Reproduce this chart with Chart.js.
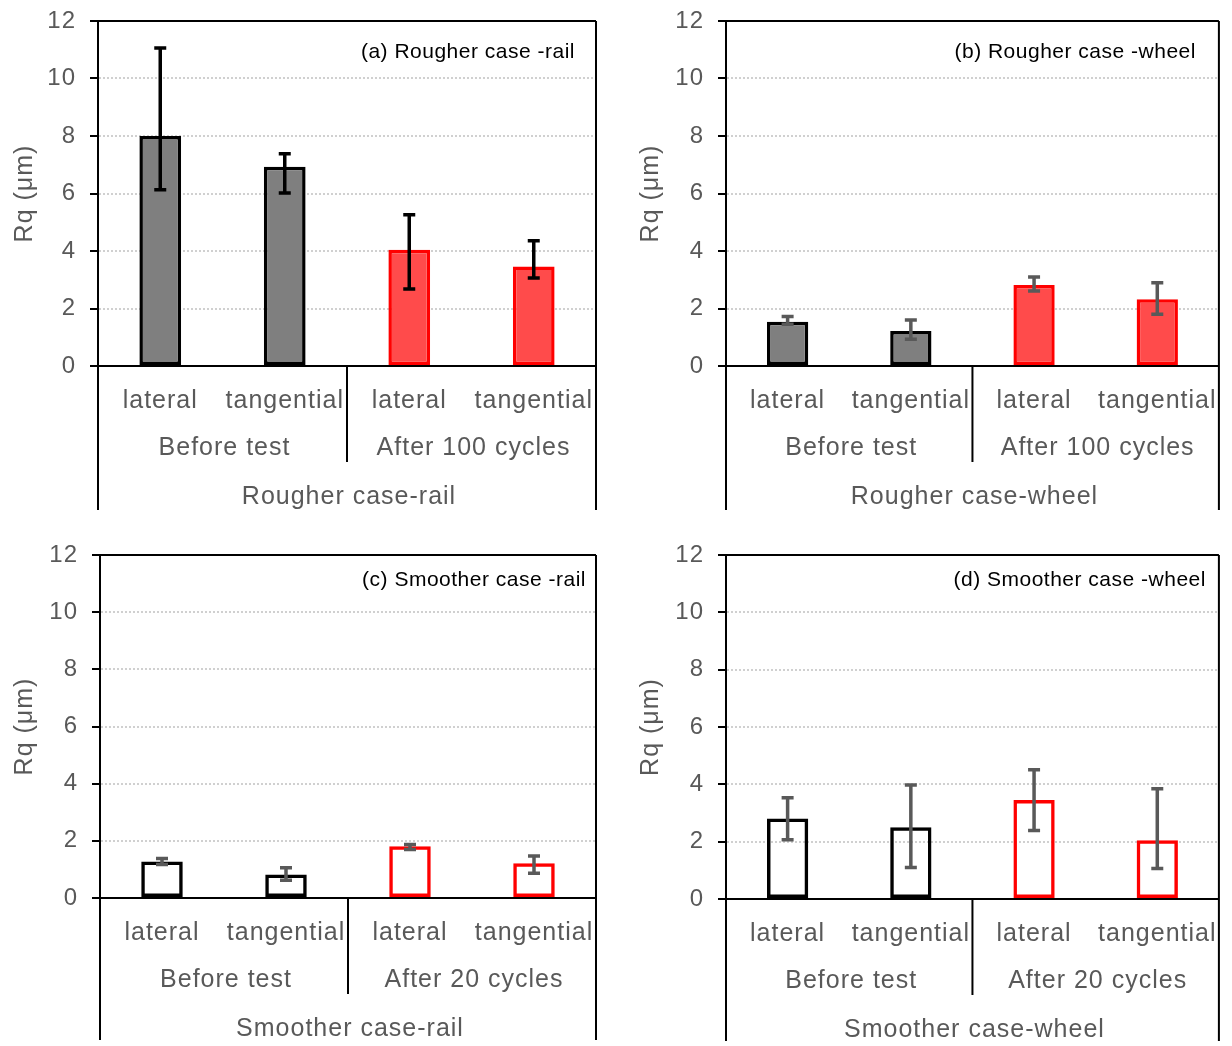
<!DOCTYPE html>
<html>
<head>
<meta charset="utf-8">
<script src="https://cdn.jsdelivr.net/npm/chart.js@4.4.1/dist/chart.umd.min.js"></script>
<style>
  html, body { margin: 0; padding: 0; background: #fff; }
  #wrap { position: relative; width: 1232px; height: 1046px; }
  canvas { position: absolute; }
</style>
</head>
<body>
<div id="wrap">
  <canvas id="chartA" width="616" height="523" style="left:0;top:0"></canvas>
  <canvas id="chartB" width="616" height="523" style="left:616px;top:0"></canvas>
  <canvas id="chartC" width="616" height="516" style="left:0;top:530px"></canvas>
  <canvas id="chartD" width="616" height="516" style="left:616px;top:530px"></canvas>
</div>
<script>
var categories = ["lateral", "tangential", "lateral", "tangential"];
var groupsRough = ["Before test", "After 100 cycles"];
var groupsSmooth = ["Before test", "After 20 cycles"];
var yMin = 0, yMax = 12, yStep = 2;

// (a) rougher case - rail
var railRoughMean = [8.0, 6.93, 4.04, 3.46];
var railRoughLow = [6.13, 6.02, 2.68, 3.06];
var railRoughHigh = [11.06, 7.38, 5.26, 4.36];

// (b) rougher case - wheel
var wheelRoughMean = [1.54, 1.22, 2.82, 2.32];
var wheelRoughLow = [1.45, 0.93, 2.61, 1.8];
var wheelRoughHigh = [1.72, 1.6, 3.1, 2.9];

// (c) smoother case - rail
var railSmoothMean = [1.28, 0.82, 1.81, 1.22];
var railSmoothLow = [1.17, 0.62, 1.7, 0.87];
var railSmoothHigh = [1.38, 1.06, 1.87, 1.47];

// (d) smoother case - wheel
var wheelSmoothMean = [2.81, 2.5, 3.45, 2.05];
var wheelSmoothLow = [2.07, 1.1, 2.39, 1.06];
var wheelSmoothHigh = [3.53, 3.98, 4.51, 3.85];

var FONT = "'Liberation Sans', Arial, sans-serif";
var GRAY = "#595959";

// error bars, frame lines, group rows and the panel caption
var panelDecor = {
  id: "panelDecor",
  beforeDraw: function (chart) {
    chart.ctx.letterSpacing = "1px";
  },
  afterDatasetsDraw: function (chart) {
    var ctx = chart.ctx, y = chart.scales.y;
    var ds = chart.data.datasets[0];
    var meta = chart.getDatasetMeta(0);
    ctx.save();
    ctx.strokeStyle = ds.errColor;
    ctx.lineWidth = 3.5;
    meta.data.forEach(function (bar, i) {
      var yt = y.getPixelForValue(ds.errHigh[i]);
      var yb = y.getPixelForValue(ds.errLow[i]);
      ctx.beginPath();
      ctx.moveTo(bar.x, yt); ctx.lineTo(bar.x, yb);
      ctx.moveTo(bar.x - 6, yt); ctx.lineTo(bar.x + 6, yt);
      ctx.moveTo(bar.x - 6, yb); ctx.lineTo(bar.x + 6, yb);
      ctx.stroke();
    });
    ctx.restore();
  },
  afterDraw: function (chart) {
    var ctx = chart.ctx, a = chart.chartArea, x = chart.scales.x;
    var ds = chart.data.datasets[0];
    var bottom = a.bottom + ds.frameDepth;
    ctx.save();
    ctx.strokeStyle = "#000";
    ctx.lineWidth = 2;
    ctx.beginPath();
    // top and right border, axis lines carried down through the label rows
    ctx.moveTo(a.left - 8, a.top); ctx.lineTo(a.right, a.top);
    ctx.moveTo(a.right, a.top); ctx.lineTo(a.right, bottom);
    ctx.moveTo(a.left, a.bottom); ctx.lineTo(a.left, bottom);
    var sep = (x.getPixelForValue(1) + x.getPixelForValue(2)) / 2;
    ctx.moveTo(sep, a.bottom); ctx.lineTo(sep, a.bottom + 96);
    ctx.stroke();

    ctx.letterSpacing = "1px";
    ctx.fillStyle = GRAY;
    ctx.font = "25px " + FONT;
    ctx.textAlign = "center";
    ctx.textBaseline = "middle";
    ds.groups.forEach(function (g, i) {
      var cx = (x.getPixelForValue(2 * i) + x.getPixelForValue(2 * i + 1)) / 2;
      ctx.fillText(g, cx + 2, a.bottom + 82);
    });
    ctx.fillText(ds.caseLabel, (a.left + a.right) / 2 + 2, a.bottom + 131);

    ctx.letterSpacing = "0.5px";
    ctx.fillStyle = "#000";
    ctx.font = "21px " + FONT;
    ctx.textAlign = "right";
    ctx.fillText(ds.panelLabel, a.right - ds.labelRight, a.top + ds.labelTop);
    ctx.restore();
  }
};

function makeChart(id, cfg) {
  var colors = cfg.filled
    ? ["#7f7f7f", "#7f7f7f", "#ff4b4b", "#ff4b4b"]
    : ["rgba(0,0,0,0)", "rgba(0,0,0,0)", "rgba(0,0,0,0)", "rgba(0,0,0,0)"];
  return new Chart(document.getElementById(id), {
    type: "bar",
    data: {
      labels: categories,
      datasets: [{
        data: cfg.mean,
        errLow: cfg.low,
        errHigh: cfg.high,
        errColor: cfg.errColor,
        groups: cfg.groups,
        caseLabel: cfg.caseLabel,
        panelLabel: cfg.panelLabel,
        labelRight: cfg.labelRight,
        labelTop: cfg.labelTop,
        frameDepth: cfg.frameDepth,
        backgroundColor: colors,
        borderColor: ["#000", "#000", "#ff0000", "#ff0000"],
        borderWidth: 3.5,
        borderSkipped: false,
        barPercentage: 0.335,
        categoryPercentage: 1.0
      }]
    },
    options: {
      responsive: false,
      animation: false,
      devicePixelRatio: 1,
      layout: { padding: { left: 0, top: cfg.padTop, right: cfg.padRight, bottom: 0 } },
      plugins: { legend: { display: false }, tooltip: { enabled: false } },
      scales: {
        x: {
          grid: { display: false, drawTicks: false },
          border: { color: "#000", width: 2 },
          ticks: { color: GRAY, padding: 20, font: { family: FONT, size: 25 } },
          afterFit: function (s) { s.height = cfg.xHeight; }
        },
        y: {
          min: yMin,
          max: yMax,
          ticks: { stepSize: yStep, color: GRAY, padding: 14, font: { family: FONT, size: 24, lineHeight: 0.4 } },
          grid: {
            color: function (c) {
              return (c.tick && (c.tick.value === yMin || c.tick.value === yMax)) ? "rgba(0,0,0,0)" : "#d0d0d0";
            },
            lineWidth: 2,
            tickColor: "#000",
            tickLength: 8,
            tickWidth: 2,
            tickBorderDash: []
          },
          border: { color: "#000", width: 2, dash: [2, 2] },
          title: {
            display: true,
            text: "Rq (μm)",
            color: GRAY,
            font: { family: FONT, size: 25 },
            padding: { top: cfg.titlePad, bottom: 0 }
          },
          afterFit: function (s) { s.width = cfg.yWidth; }
        }
      }
    },
    plugins: [panelDecor]
  });
}

makeChart("chartA", {
  mean: railRoughMean, low: railRoughLow, high: railRoughHigh, filled: true, errColor: "#000",
  groups: groupsRough, caseLabel: "Rougher case-rail", panelLabel: "(a) Rougher case -rail",
  labelRight: 21, labelTop: 31, frameDepth: 144,
  padTop: 21, padRight: 20, xHeight: 157, yWidth: 98, titlePad: 10
});
makeChart("chartB", {
  mean: wheelRoughMean, low: wheelRoughLow, high: wheelRoughHigh, filled: true, errColor: GRAY,
  groups: groupsRough, caseLabel: "Rougher case-wheel", panelLabel: "(b) Rougher case -wheel",
  labelRight: 23, labelTop: 31, frameDepth: 144,
  padTop: 21, padRight: 4, xHeight: 157, yWidth: 110, titlePad: 20
});
makeChart("chartC", {
  mean: railSmoothMean, low: railSmoothLow, high: railSmoothHigh, filled: false, errColor: GRAY,
  groups: groupsSmooth, caseLabel: "Smoother case-rail", panelLabel: "(c) Smoother case -rail",
  labelRight: 10, labelTop: 25, frameDepth: 142,
  padTop: 25, padRight: 20, xHeight: 148, yWidth: 100, titlePad: 10
});
makeChart("chartD", {
  mean: wheelSmoothMean, low: wheelSmoothLow, high: wheelSmoothHigh, filled: false, errColor: GRAY,
  groups: groupsSmooth, caseLabel: "Smoother case-wheel", panelLabel: "(d) Smoother case -wheel",
  labelRight: 13, labelTop: 25, frameDepth: 142,
  padTop: 25, padRight: 4, xHeight: 147, yWidth: 110, titlePad: 20
});
</script>
</body>
</html>
